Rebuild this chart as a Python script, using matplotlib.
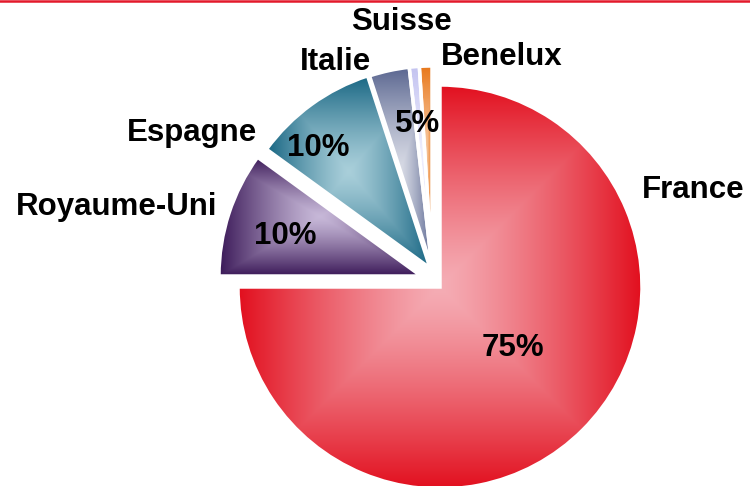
import numpy as np
import matplotlib
matplotlib.use("Agg")
import matplotlib.pyplot as plt
from matplotlib.colors import to_rgb
from matplotlib.lines import Line2D

# ---- data ----
categories = ["France", "Royaume-Uni", "Espagne", "Italie", "Suisse", "Benelux"]
values = [75, 10, 10, 3.2, 0.8, 1.0]
pct_labels = ["75%", "10%", "10%", "5%"]

# ---- style ----
dark_colors = ["#e20f1e", "#3b1958", "#186683", "#5a6690", "#c3c3f0", "#e8771a"]
light_colors = ["#f5adb5", "#c7b8d8", "#a9cfda", "#d6d9e4", "#f2f2ff", "#fad3b2"]
# slice displacement (pixels, right / up)
offsets = [(0, 0), (-19, 11), (-10, 19), (-8, 19), (-8, 19), (-8, 19)]

W, H = 750, 486
fig = plt.figure(figsize=(W / 100, H / 100), dpi=100)
ax = fig.add_axes([0, 0, 1, 1])
ax.set_xlim(0, W)
ax.set_ylim(0, H)
ax.axis("off")

center = (440, H - 287)
radius = 202

wedges, _ = ax.pie(values, startangle=90, counterclock=False,
                   center=center, radius=radius,
                   wedgeprops=dict(edgecolor="white", linewidth=2.5))
for w, (dx, dy) in zip(wedges, offsets):
    cx, cy = w.center
    w.set_center((cx + dx, cy + dy))

# pillow gradients clipped to each wedge
for w, dc, lc in zip(wedges, dark_colors, light_colors):
    path = w.get_path()
    bb = path.get_extents(w.get_patch_transform())
    x0, x1, y0, y1 = bb.x0, bb.x1, bb.y0, bb.y1
    n = 300
    u = np.linspace(-1, 1, n)
    U, V = np.meshgrid(u, u)
    t = np.maximum(np.abs(U), np.abs(V)) ** 1.25
    d = np.array(to_rgb(dc))
    l = np.array(to_rgb(lc))
    img = l[None, None, :] * (1 - t[..., None]) + d[None, None, :] * t[..., None]
    im = ax.imshow(img, extent=(x0, x1, y0, y1), origin="lower",
                   interpolation="bilinear", zorder=w.get_zorder() + 0.1)
    im.set_clip_path(w)
    w.set_facecolor("none")
    w.set_zorder(w.get_zorder() + 0.2)

ax.set_xlim(0, W)
ax.set_ylim(0, H)
ax.set_aspect("equal")

font = dict(family=["Liberation Sans", "DejaVu Sans"], fontweight="bold",
            fontsize=22.5, color="black", ha="center", va="center")

label_pos = [(693, 190), (117, 207), (192, 133), (336, 62), (402, 22), (502, 57)]
for name, (px, py) in zip(categories, label_pos):
    ax.text(px, H - py, name, zorder=10, **font)

pct_pos = [(513, 348), (285, 236), (318, 148), (418, 124)]
for lab, (px, py) in zip(pct_labels, pct_pos):
    ax.text(px, H - py, lab, zorder=10, **font)

fig.add_artist(Line2D([0, 1], [1 - 1.5 / H, 1 - 1.5 / H], transform=fig.transFigure,
                      color="#e3192b", linewidth=1.8))

fig.savefig("out.png", dpi=100)
